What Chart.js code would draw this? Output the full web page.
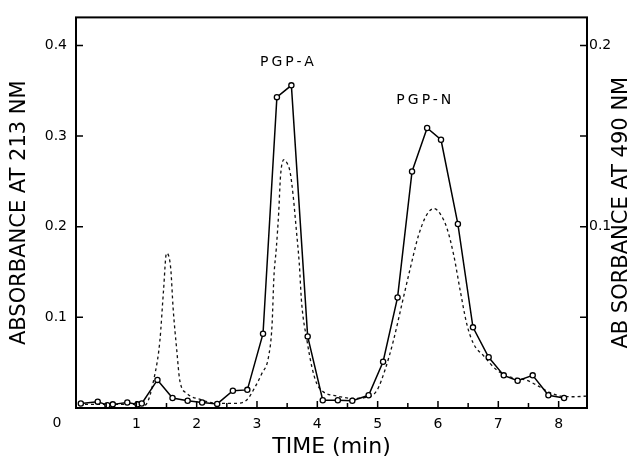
<!DOCTYPE html>
<html>
<head>
<meta charset="utf-8">
<script src="https://cdn.jsdelivr.net/npm/chart.js@4/dist/chart.umd.min.js"></script>
<style>
  body { margin: 0; background: #fff; }
  #wrap { width: 641px; height: 461px; }
</style>
</head>
<body>
<div id="wrap"><canvas id="chart"></canvas></div>
<script>
// 213 nm trace (solid line, open circles), left axis
var time213 = [0.08, 0.36, 0.52, 0.61, 0.85, 1.02, 1.09, 1.35, 1.60, 1.85, 2.09, 2.34, 2.60, 2.84, 3.10, 3.33, 3.57, 3.84,
	4.09, 4.34, 4.58, 4.85, 5.09, 5.33, 5.57, 5.82, 6.05, 6.33, 6.58, 6.84, 7.09, 7.32, 7.57, 7.83, 8.09];
var abs213 = [0.005, 0.007, 0.003, 0.004, 0.006, 0.004, 0.005, 0.031, 0.011, 0.008, 0.006, 0.0045, 0.019, 0.020, 0.082, 0.343, 0.356, 0.079,
	0.0085, 0.0085, 0.008, 0.014, 0.051, 0.122, 0.261, 0.309, 0.296, 0.203, 0.089, 0.056, 0.036, 0.030, 0.036, 0.014, 0.011];

// 490 nm trace (dashed line), right axis
var time490 = [0.05, 0.4, 0.7, 1.0, 1.14, 1.31, 1.39, 1.45, 1.50, 1.57, 1.61, 1.67, 1.72, 1.84, 2.06, 2.33, 2.67, 2.83, 2.97, 3.08, 3.19,
	3.25, 3.28, 3.32, 3.36, 3.39, 3.45, 3.50, 3.55, 3.60, 3.65, 3.70, 3.74, 3.83, 3.91, 3.99, 4.10, 4.32, 4.60, 4.85, 4.99,
	5.12, 5.26, 5.40, 5.54, 5.68, 5.82, 5.93, 6.04, 6.15, 6.26, 6.37, 6.48, 6.59, 6.75, 6.98, 7.20, 7.47, 7.69, 7.83, 8.03, 8.25, 8.47];
var abs490 = [0.002, 0.002, 0.002, 0.002, 0.0016, 0.019, 0.037, 0.0645, 0.0854, 0.077, 0.055, 0.032, 0.0153, 0.008, 0.0047, 0.0026, 0.0026, 0.0044, 0.0117, 0.019, 0.028,
	0.046, 0.072, 0.088, 0.108, 0.128, 0.137, 0.135, 0.130, 0.117, 0.099, 0.080, 0.058, 0.037, 0.0226, 0.0135, 0.0089, 0.0066, 0.0053, 0.0062, 0.0098,
	0.0208, 0.037, 0.057, 0.077, 0.0955, 0.107, 0.110, 0.107, 0.099, 0.0845, 0.0645, 0.046, 0.0354, 0.029, 0.0208, 0.0171, 0.0153, 0.0116, 0.0089, 0.0066, 0.0062, 0.0066];

var leftTicks = [0.1, 0.2, 0.3, 0.4];
var rightTicks = [0.1, 0.2];
var timeTicks = [1, 2, 3, 4, 5, 6, 7, 8];
var peakNames = ["PGP-A", "PGP-N"];

var FONT = "'DejaVu Sans', sans-serif";

function pairs(xs, ys) {
	return xs.map(function (x, i) { return { x: x, y: ys[i] }; });
}

// rebuild ticks as plain multiples of the step (no extra tick at max)
function stepTicks(step) {
	return function (scale) {
		var out = [];
		for (var i = 0; i * step <= scale.max + 1e-9; i++) {
			out.push({ value: Math.round(i * step * 1000) / 1000 });
		}
		scale.ticks = out;
	};
}

function labelIf(list) {
	return function (v) {
		var hit = list.filter(function (t) { return Math.abs(t - v) < 1e-6; });
		return hit.length ? (Number.isInteger(hit[0]) ? String(hit[0]) : hit[0].toFixed(1)) : '';
	};
}

// frame, inward tick marks, corner zero, peak labels, right title
var decorations = {
	id: 'decorations',
	afterDraw: function (chart) {
		var ctx = chart.ctx;
		var a = chart.chartArea;
		var x = chart.scales.x, y = chart.scales.y, y2 = chart.scales.y2;
		ctx.save();
		ctx.strokeStyle = '#000';
		ctx.lineWidth = 2;
		ctx.strokeRect(a.left, a.top, a.right - a.left, a.bottom - a.top);

		ctx.lineWidth = 1.5;
		ctx.beginPath();
		x.ticks.forEach(function (t) {
			if (t.value <= 0) return;
			var px = x.getPixelForValue(t.value);
			var len = Number.isInteger(t.value) ? 7 : 5;
			ctx.moveTo(px, a.bottom);
			ctx.lineTo(px, a.bottom - len);
		});
		y.ticks.forEach(function (t) {
			if (t.value <= 0) return;
			var py = y.getPixelForValue(t.value);
			ctx.moveTo(a.left, py);
			ctx.lineTo(a.left + 7, py);
		});
		y2.ticks.forEach(function (t) {
			if (t.value <= 0) return;
			var py = y2.getPixelForValue(t.value);
			ctx.moveTo(a.right, py);
			ctx.lineTo(a.right - 7, py);
		});
		ctx.stroke();

		ctx.fillStyle = '#000';
		ctx.font = '14px ' + FONT;
		ctx.textAlign = 'center';
		ctx.textBaseline = 'middle';
		ctx.fillText('0', a.left - 19, a.bottom + 15);

		ctx.font = '14px ' + FONT;
		ctx.letterSpacing = '3px';
		ctx.fillText(peakNames[0], x.getPixelForValue(3.52), y.getPixelForValue(0.381));
		ctx.fillText(peakNames[1], x.getPixelForValue(5.79), y.getPixelForValue(0.339));
		ctx.letterSpacing = '0px';

		ctx.font = '21px ' + FONT;
		ctx.translate(chart.width - 19, (a.top + a.bottom) / 2);
		ctx.rotate(-Math.PI / 2);
		ctx.fillText('AB SORBANCE AT 490 NM', 0, 0);
		ctx.restore();
	}
};

var ctx = document.getElementById('chart').getContext('2d');
var chart = new Chart(ctx, {
	type: 'line',
	data: {
		datasets: [{
			label: '213 nm',
			data: pairs(time213, abs213),
			yAxisID: 'y',
			borderColor: '#000',
			borderWidth: 1.5,
			pointRadius: 2.6,
			pointBackgroundColor: '#fff',
			pointBorderColor: '#000',
			pointBorderWidth: 1.3,
			tension: 0,
			order: 1
		}, {
			label: '490 nm',
			data: pairs(time490, abs490),
			yAxisID: 'y2',
			borderColor: '#111',
			borderWidth: 1.3,
			borderDash: [3, 3],
			pointRadius: 0,
			cubicInterpolationMode: 'monotone',
			order: 2
		}]
	},
	options: {
		responsive: true,
		maintainAspectRatio: false,
		animation: false,
		layout: { padding: { top: 12, left: 0, right: 0, bottom: 0 } },
		plugins: { legend: { display: false }, tooltip: { enabled: false } },
		scales: {
			x: {
				type: 'linear',
				min: 0,
				max: 8.47,
				grid: { display: false, drawTicks: false },
				border: { display: false },
				ticks: {
					autoSkip: false,
					maxRotation: 0,
					padding: 8,
					color: '#000',
					font: { family: FONT, size: 14 },
					callback: labelIf(timeTicks)
				},
				afterBuildTicks: stepTicks(0.5),
				afterFit: function (s) { s.height = 53; },
				title: {
					display: true,
					text: 'TIME (min)',
					color: '#000',
					font: { family: FONT, size: 22 },
					padding: { top: 0, bottom: 1 }
				}
			},
			y: {
				position: 'left',
				min: 0,
				max: 0.431,
				grid: { display: false, drawTicks: false },
				border: { display: false },
				ticks: {
					autoSkip: false,
					padding: 9,
					color: '#000',
					font: { family: FONT, size: 14 },
					callback: labelIf(leftTicks)
				},
				afterBuildTicks: stepTicks(0.1),
				afterFit: function (s) { s.width = 76; },
				title: {
					display: true,
					text: 'ABSORBANCE AT 213 NM',
					color: '#000',
					font: { family: FONT, size: 21 },
					padding: { top: 7, bottom: 0 }
				}
			},
			y2: {
				position: 'right',
				min: 0,
				max: 0.2155,
				grid: { display: false, drawTicks: false },
				border: { display: false },
				ticks: {
					autoSkip: false,
					padding: 2,
					color: '#000',
					font: { family: FONT, size: 14 },
					callback: labelIf(rightTicks)
				},
				afterBuildTicks: stepTicks(0.05),
				afterFit: function (s) { s.width = 54; }
			}
		}
	},
	plugins: [decorations]
});
</script>
</body>
</html>
